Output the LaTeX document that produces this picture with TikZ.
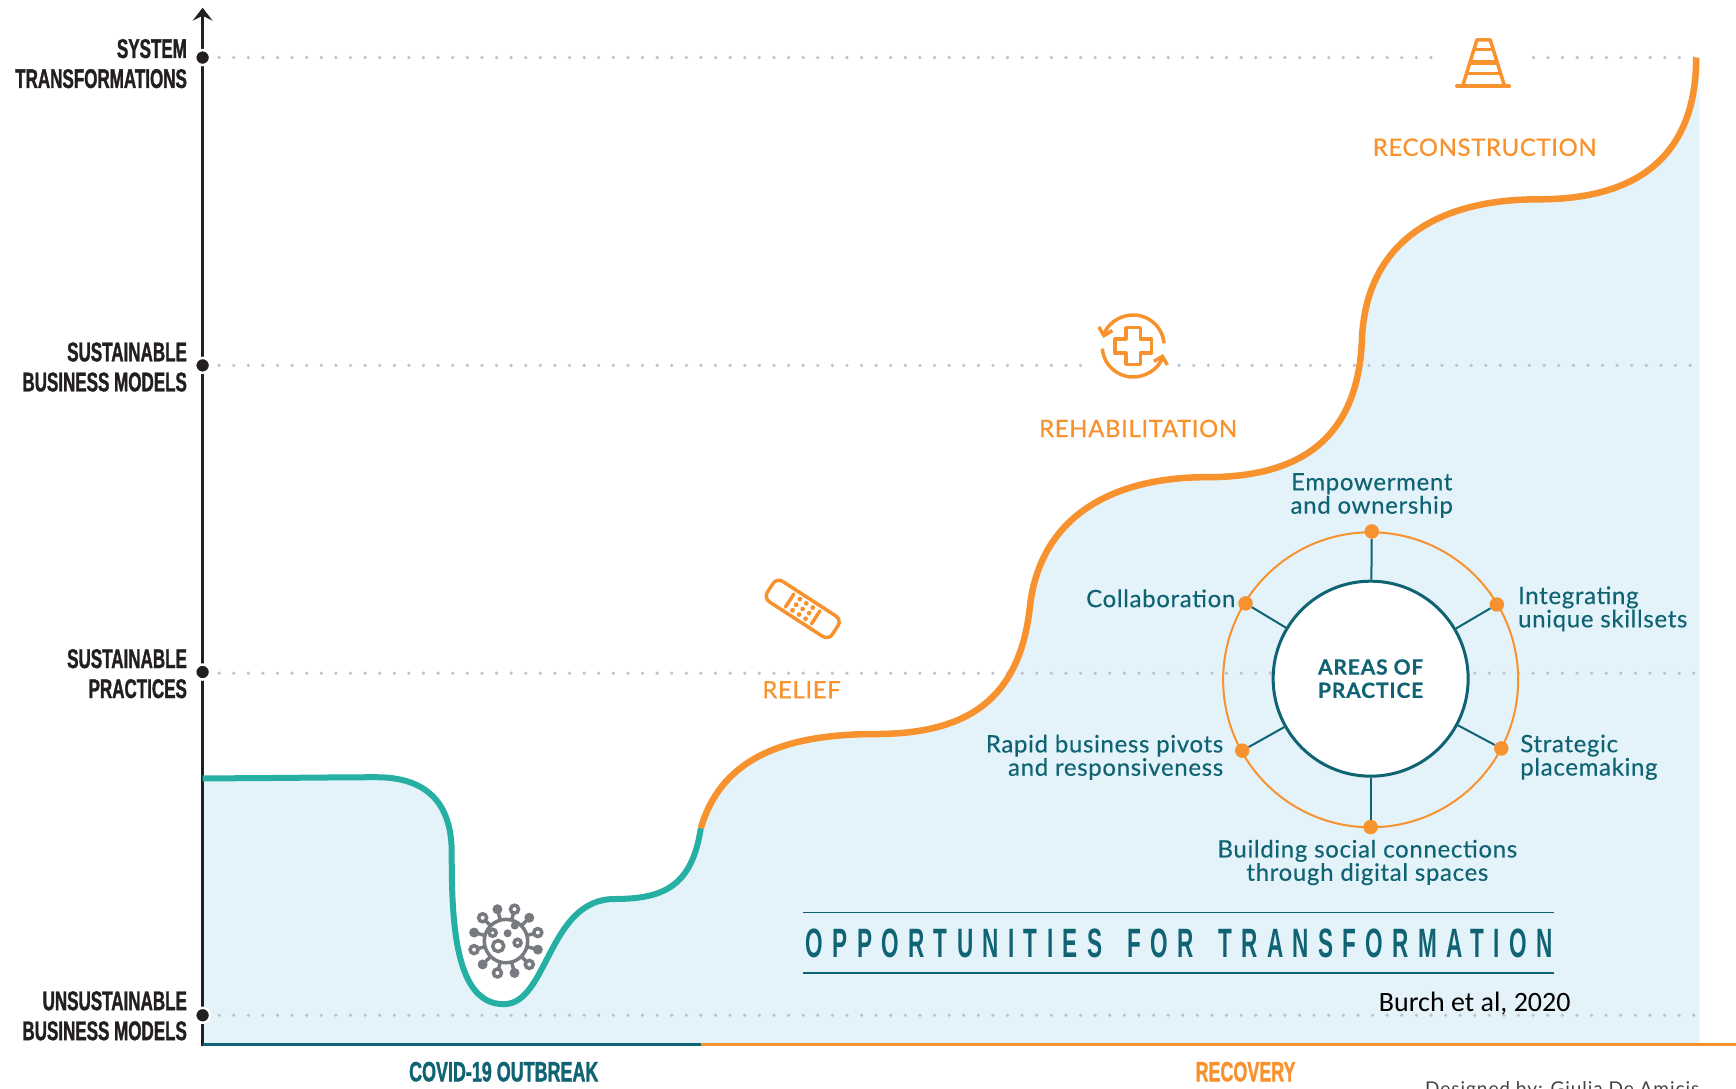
\documentclass[tikz,border=0pt]{standalone}
\usepackage{fontspec}
\usetikzlibrary{calc,positioning,arrows.meta}
\newfontfamily\axisfont[FakeStretch=0.63,BoldFeatures={FakeBold=1.2}]{Liberation Sans}
\newfontfamily\basefont[FakeStretch=0.64,BoldFeatures={FakeBold=1.2}]{Liberation Sans}
\newfontfamily\titlefont[FakeStretch=0.55,LetterSpace=22.8,WordSpace=1.6]{Liberation Sans}
\newfontfamily\dinfont[LetterSpace=2.8,FakeBold=0.3]{Lato}
\newfontfamily\capsfont[LetterSpace=2.5,FakeBold=0.6]{Lato}
\newfontfamily\hubfont[LetterSpace=4,BoldFeatures={FakeBold=0.4}]{Lato}
\newfontfamily\notefont{Carlito}
\newfontfamily\signfont[LetterSpace=5]{Lato}
\definecolor{areablue}{HTML}{E4F3F9}
\definecolor{curveteal}{HTML}{25B0A3}
\definecolor{curveorange}{HTML}{F7922E}
\definecolor{textteal}{HTML}{0F6373}
\definecolor{axisblack}{HTML}{231F20}
\definecolor{dotgrey}{HTML}{BDC1CC}
\definecolor{virusgrey}{HTML}{777B80}
\tikzset{
	axislabel/.style={anchor=east,align=right,text=axisblack,font=\axisfont\bfseries\fontsize{27}{30}\selectfont},
	baselabel/.style={font=\basefont\bfseries\fontsize{28}{30}\selectfont},
	practice/.style={inner sep=0pt,text=textteal,font=\dinfont\fontsize{24}{23.3}\selectfont},
	phase/.style={text=curveorange,font=\capsfont\fontsize{24}{26}\selectfont},
	tick/.style={circle,fill=axisblack,draw=white,line width=2.5pt,inner sep=0pt,minimum size=15pt},
	knob/.style={circle,fill=curveorange,inner sep=0pt,minimum size=14.5pt},
	level/.style={dotgrey,line width=3.6pt,line cap=round,dash pattern=on 0pt off 14.6pt},
	spoke/.style={textteal,line width=2pt}
}
\begin{document}
\begin{tikzpicture}[x=1.1071pt,y=-1.1071pt]
    \useasboundingbox (0,0) rectangle (1568,983.6);
    % area under the curve
    \fill[areablue] (183,703) .. controls (240,703) and (300,702) .. (340,702)
        .. controls (385,702) and (408,725) .. (408,770)
        .. controls (408,830) and (410,907) .. (455,907)
        .. controls (495,907) and (495,812) .. (555,812)
        .. controls (600,812) and (625,800) .. (633,748)
        .. controls (650,690) and (700,663) .. (790,663)
        .. controls (870,663) and (920,635) .. (930,550)
        .. controls (938,470) and (1000,431) .. (1090,431)
        .. controls (1170,431) and (1225,400) .. (1230,310)
        .. controls (1232,225) and (1290,180) .. (1390,180)
        .. controls (1480,180) and (1532,140) .. (1532,52)
        -- (1535,52) -- (1535,943) -- (183,943) -- cycle;

    % axis
    \coordinate (axisbot) at (183,945);
    \coordinate (axistop) at (183,7);
    \coordinate (split) at (633,943);
    \coordinate (baseorigin) at (183,943);
    \coordinate (baseend) at (1568,943);
    \draw[axisblack,line width=2.5pt,-{Stealth[length=13pt,width=20pt,inset=5pt]}] (axisbot) -- (axistop);
    \draw[textteal,line width=3pt] (baseorigin) -- (split);
    \draw[curveorange,line width=3pt] (split) -- (baseend);
    \node[tick] (sys) at (183,52) {};
    \node[tick] (model) at (183,330) {};
    \node[tick] (prac) at (183,607) {};
    \node[tick] (unsus) at (183,917) {};

    % levels
    \coordinate (sysa) at (1295,52);
    \coordinate (sysb) at (1385,52);
    \coordinate (sysc) at (1532,52);
    \coordinate (modela) at (980,330);
    \coordinate (modelb) at (1065,330);
    \coordinate (modelc) at (1532,330);
    \coordinate (pracc) at (1532,608);
    \coordinate (unsusc) at (1532,917);
    \draw[level] (sys.east) ++(7,0) -- (sysa);
    \draw[level] (sysb) -- (sysc);
    \draw[level] (model.east) ++(7,0) -- (modela);
    \draw[level] (modelb) -- (modelc);
    \draw[level] (prac.east) ++(7,1) -- (pracc);
    \draw[level] (unsus.east) ++(7,0) -- (unsusc);

    % curve
    \draw[curveteal,line width=6pt] (183,703) .. controls (240,703) and (300,702) .. (340,702)
        .. controls (385,702) and (408,725) .. (408,770)
        .. controls (408,830) and (410,907) .. (455,907)
        .. controls (495,907) and (495,812) .. (555,812)
        .. controls (600,812) and (625,800) .. (633,748);
    \draw[curveorange,line width=6.5pt] (633,748)
        .. controls (650,690) and (700,663) .. (790,663)
        .. controls (870,663) and (920,635) .. (930,550)
        .. controls (938,470) and (1000,431) .. (1090,431)
        .. controls (1170,431) and (1225,400) .. (1230,310)
        .. controls (1232,225) and (1290,180) .. (1390,180)
        .. controls (1480,180) and (1532,140) .. (1532,52);

    % labels
    \node[axislabel] (lsys) at (172,57.5) {SYSTEM\\TRANSFORMATIONS};
    \node[axislabel] (lmodel) at (172,331.5) {SUSTAINABLE\\BUSINESS MODELS};
    \node[axislabel] (lprac) at (172,608.5) {SUSTAINABLE\\PRACTICES};
    \node[axislabel] (lunsus) at (172,917.5) {UNSUSTAINABLE\\BUSINESS MODELS};
    \node[baselabel,text=textteal] (lcovid) at (455,968) {COVID-19 OUTBREAK};
    \node[baselabel,text=curveorange] (lrecov) at (1125,968) {RECOVERY};
    \node[phase] (lrelief) at (724,623) {RELIEF};
    \node[phase] (lrehab) at (1028,387) {REHABILITATION};
    \node[phase] (lrecon) at (1341,133) {RECONSTRUCTION};

    % areas of practice
    \node[circle,draw=curveorange,line width=2pt,inner sep=0pt,minimum size=295pt] (ring) at (1238,614) {};
    \node[knob] (ka) at (1239,480) {};
    \node[knob] (kb) at (1352,546) {};
    \node[knob] (kc) at (1356,676) {};
    \node[knob] (kd) at (1238,747) {};
    \node[knob] (ke) at (1122,678) {};
    \node[knob] (kf) at (1125,545) {};
    \node[circle,draw=textteal,fill=white,line width=3pt,inner sep=0pt,minimum size=195pt,align=center,
        text=textteal,font=\hubfont\bfseries\fontsize{21}{23.3}\selectfont] (hub) at (1238,613) {AREAS OF\\PRACTICE};
    \draw[spoke] (ka) -- (hub);
    \draw[spoke] (kb) -- (hub);
    \draw[spoke] (kc) -- (hub);
    \draw[spoke] (kd) -- (hub);
    \draw[spoke] (ke) -- (hub);
    \draw[spoke] (kf) -- (hub);
    \node[practice,align=center] (tempo) at (1239,447.5) {Empowerment\\and ownership};
    \node[practice,anchor=west,align=left] (tskill) at (1371,550) {Integrating\\unique skillsets};
    \node[practice,anchor=west,align=left] (tplace) at (1373,684) {Strategic\\placemaking};
    \node[practice,align=center] (tsocial) at (1235,779) {Building social connections\\through digital spaces};
    \node[practice,anchor=east,align=right] (trapid) at (1105,684) {Rapid business pivots\\and responsiveness};
    \node[practice,anchor=east] (tcollab) at (1116,540.5) {Collaboration};

    % title
    \coordinate (rulea) at (725,824);
    \coordinate (ruleb) at (1404,824);
    \coordinate (rulec) at (725,879);
    \coordinate (ruled) at (1404,879);
    \draw[textteal,line width=1.5pt] (rulea) -- (ruleb);
    \draw[textteal,line width=1.5pt] (rulec) -- (ruled);
    \node[text=textteal,font=\titlefont\bfseries\fontsize{41}{44}\selectfont] (title) at (1065,852) {OPPORTUNITIES FOR TRANSFORMATION};
    \node[font=\notefont\fontsize{28}{30}\selectfont] (burch) at (1332,906) {Burch et al, 2020};
    \node[anchor=east,text=axisblack!85,font=\signfont\fontsize{19}{21}\selectfont] (design) at (1538,985) {Designed by: Giulia De Amicis};

    % cone
    \draw[curveorange,line width=3.5pt,line join=round] (1321,78) -- (1334,36) -- (1346,36) -- (1359,78);
    \draw[curveorange,line width=4pt,line cap=round] (1316,78) -- (1363,78);
    \draw[curveorange,line width=3pt] (1331,45) -- (1349,45);
    \draw[curveorange,line width=5pt] (1327,56) -- (1353,56);
    \draw[curveorange,line width=3pt] (1324,66) -- (1356,66);

    % cross
    \begin{scope}[shift={(1023.5,312.5)},curveorange,line width=3.5pt]
        \draw[line join=round] (-6.5,-16.5) -- (6.5,-16.5) -- (6.5,-6.5) -- (16.5,-6.5) -- (16.5,6.5) -- (6.5,6.5)
            -- (6.5,16.5) -- (-6.5,16.5) -- (-6.5,6.5) -- (-16.5,6.5) -- (-16.5,-6.5) -- (-6.5,-6.5) -- cycle;
        \draw[-{Straight Barb[length=7pt,width=14pt]}] (5:31pt) arc[start angle=5,end angle=165,radius=31pt];
        \draw[-{Straight Barb[length=7pt,width=14pt]}] (185:31pt) arc[start angle=185,end angle=345,radius=31pt];
    \end{scope}

    % bandage
    \begin{scope}[shift={(725,550)},rotate=-33,curveorange]
        \draw[line width=3.5pt,rounded corners=7pt] (-35,-11) rectangle (35,11);
        \draw[line width=3.5pt,line cap=round] (-14,-7) -- (-14,7);
        \draw[line width=3.5pt,line cap=round] (14,-7) -- (14,7);
        \foreach \u in {-7,0,7}
            \foreach \v in {-6,0,6}
                \fill (\u,\v) circle (2.4pt);
    \end{scope}

    % virus
    \begin{scope}[shift={(457,850)},virusgrey,line width=3.5pt]
        \draw (0,0) circle (21.7pt);
        \foreach \a in {15,75,...,345}
            \draw[fill=white] (\a:21.7pt) -- (\a:30pt) (\a:33pt) circle (4pt);
        \foreach \a in {45,105,...,345}
        {
            \draw (\a:21.7pt) -- (\a:30pt);
            \fill (\a:33pt) circle (5pt);
        }
        \draw (-7,4.5) circle (5.5pt);
        \draw (-12,-7.5) circle (3.5pt);
        \draw (10.5,1.5) circle (3.5pt);
        \fill (1.5,-7) circle (4pt);
        \fill (8,-14) circle (4pt);
    \end{scope}
\end{tikzpicture}
\end{document}
